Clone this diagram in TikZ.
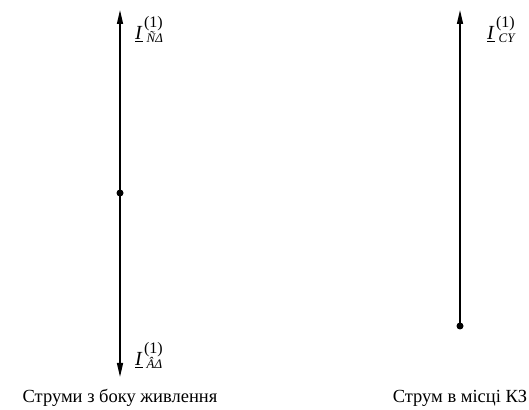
\documentclass[tikz,border=0pt]{standalone}
\usepackage{fontspec}
\setmainfont{Liberation Serif}
\usetikzlibrary{arrows.meta,positioning}
\tikzset{
  curline/.style={line width=1.4pt, draw=black},
  curarrow/.style={curline, -{Triangle[length=14pt,width=6pt]}},
  junction/.style={circle, fill=black, inner sep=0pt, minimum size=7pt},
  curlabel/.style={inner sep=0pt},
  caption/.style={font=\fontsize{18.5}{22}\selectfont, inner sep=0pt},
}
\newcommand{\curI}[1]{\underline{\fontsize{20}{20}\selectfont\textit{I}}%
  \kern1.5pt\rlap{\raisebox{12.5pt}{\fontsize{16}{16}\selectfont(1)}}%
  \kern2.5pt\raisebox{-2.5pt}{\fontsize{13}{13}\selectfont\textit{#1}}}
\begin{document}
\begin{tikzpicture}[x=1pt, y=1pt]
  \useasboundingbox (0,0) rectangle (529,409);
  % supply side
  \node[junction] (feed) at (120,216) {};
  \coordinate (feedtop) at (120,399);
  \coordinate (feedbot) at (120,32);
  \draw[curarrow] (feed.center) -- (feedtop);
  \draw[curarrow] (feed.center) -- (feedbot);
  \node[curlabel, right=15pt of feedtop, yshift=-30pt, anchor=base west] (lblup) {\curI{ÑΔ}};
  \node[curlabel, right=15pt of feedbot, yshift=11pt, anchor=base west] (lbldown) {\curI{ÂΔ}};
  \node[caption] (capfeed) at (120,11) {Струми з боку живлення};
  % fault point
  \node[junction] (fault) at (460,83) {};
  \coordinate (faulttop) at (460,399);
  \draw[curarrow] (fault.center) -- (faulttop);
  \node[curlabel, right=27pt of faulttop, yshift=-30pt, anchor=base west] (lblfault) {\curI{CY}};
  \node[caption] (capfault) at (460,11) {Струм в місці КЗ};
\end{tikzpicture}
\end{document}
